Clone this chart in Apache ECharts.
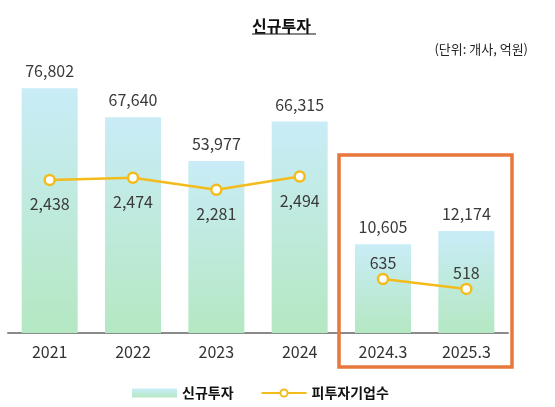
<!DOCTYPE html>
<html>
<head>
<meta charset="utf-8">
<script src="https://cdn.jsdelivr.net/npm/echarts@6/dist/echarts.min.js"></script>
<style>
  html, body { margin: 0; padding: 0; background: #fff; }
  #chart { width: 555px; height: 407px; }
</style>
</head>
<body>
<div id="chart"></div>
<script>
(function() {
    var categories = ['2021', '2022', '2023', '2024', '2024.3', '2025.3'];
    // 연간 신규투자 (억원) / 1분기 신규투자
    var investYear = [76802, 67640, 53977, 66315, '-', '-'];
    var investQuarter = ['-', '-', '-', '-', 10605, 12174];
    // 피투자기업수 (개사)
    var companyYear = [2438, 2474, 2281, 2494, '-', '-'];
    var companyQuarter = ['-', '-', '-', '-', 635, 518];

    var font = 'Noto Sans CJK KR';
    var myChart = echarts.init(document.getElementById('chart'));

    function comma(p) {
        return Number(p.value).toLocaleString('en-US');
    }

    var barColor = new echarts.graphic.LinearGradient(0, 0, 0, 1, [
        { offset: 0, color: '#c9ecf7' },
        { offset: 1, color: '#b4e8c2' }
    ]);

    var barLabel = {
        show: true,
        position: 'top',
        distance: 9,
        fontFamily: font,
        fontSize: 16,
        color: '#3a3a3a',
        formatter: comma
    };

    var lineStyle = { color: '#f4bb1c', width: 2.5 };
    var lineItem = { color: '#fff', borderColor: '#f4bb1c', borderWidth: 2.5 };

    function hiddenAxis(max) {
        return { type: 'value', min: 0, max: max, show: false, splitLine: { show: false } };
    }

    var option = {
        animation: false,
        title: [{
            text: '신규투자',
            left: 247,
            top: 13,
            textStyle: { fontFamily: font, fontSize: 16, fontWeight: 'bold', color: '#111' }
        }, {
            text: '(단위: 개사, 억원)',
            right: 22,
            top: 38,
            textStyle: { fontFamily: font, fontSize: 13, fontWeight: 'normal', color: '#222' }
        }],
        legend: {
            left: 127,
            top: 381,
            itemGap: 27,
            itemWidth: 45,
            itemHeight: 9,
            textStyle: { fontFamily: font, fontSize: 14, color: '#111', fontWeight: 'bold' },
            data: [
                { name: '신규투자', icon: 'rect' },
                { name: '피투자기업수' }
            ]
        },
        grid: { left: 8, width: 500, top: 62, bottom: 74 },
        xAxis: {
            type: 'category',
            data: categories,
            axisTick: { show: false },
            axisLine: { lineStyle: { color: '#8a8a8a', width: 2 } },
            axisLabel: { fontFamily: font, fontSize: 16, color: '#333', margin: 11 }
        },
        yAxis: [
            hiddenAxis(85000),
            hiddenAxis(32345),
            hiddenAxis(4318),
            hiddenAxis(3187)
        ],
        series: [{
            name: '신규투자',
            type: 'bar',
            yAxisIndex: 0,
            barWidth: 56,
            barGap: '-100%',
            itemStyle: { color: barColor },
            label: barLabel,
            data: investYear
        }, {
            name: '신규투자',
            type: 'bar',
            yAxisIndex: 1,
            barWidth: 56,
            barGap: '-100%',
            itemStyle: { color: barColor },
            label: barLabel,
            data: investQuarter
        }, {
            name: '피투자기업수',
            type: 'line',
            yAxisIndex: 2,
            symbol: 'circle',
            symbolSize: 10,
            lineStyle: lineStyle,
            itemStyle: lineItem,
            label: {
                show: true, position: 'bottom', distance: 10,
                fontFamily: font, fontSize: 16, color: '#3a3a3a', formatter: comma
            },
            z: 5,
            data: companyYear
        }, {
            name: '피투자기업수',
            type: 'line',
            yAxisIndex: 3,
            symbol: 'circle',
            symbolSize: 10,
            lineStyle: lineStyle,
            itemStyle: lineItem,
            label: {
                show: true, position: 'top', distance: 2,
                fontFamily: font, fontSize: 16, color: '#3a3a3a', formatter: comma
            },
            z: 5,
            data: companyQuarter
        }],
        graphic: [{
            // 제목 밑줄
            type: 'line',
            shape: { x1: 252, y1: 34, x2: 316, y2: 34 },
            style: { stroke: '#111', lineWidth: 1.2 }
        }, {
            // 1분기 강조 박스
            type: 'rect',
            shape: { x: 339, y: 155, width: 173, height: 212 },
            style: { fill: 'none', stroke: '#e8773c', lineWidth: 3.5 },
            z: 10
        }]
    };

    myChart.setOption(option);
    window.addEventListener('resize', function() {
        myChart.resize();
    });
})();
</script>
</body>
</html>
